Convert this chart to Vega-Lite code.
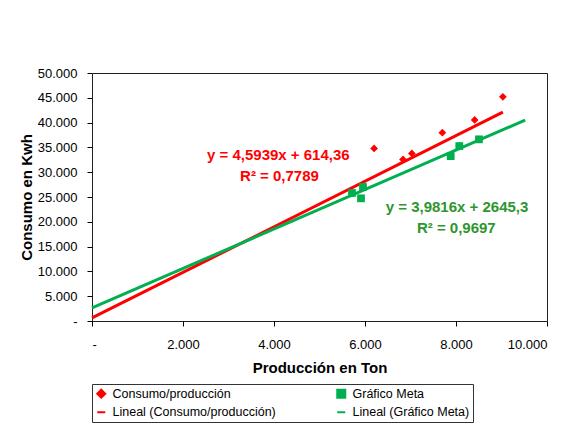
{
  "$schema": "https://vega.github.io/schema/vega-lite/v6.json",
  "width": 455,
  "height": 248,
  "autosize": "none",
  "padding": {"left": 92, "top": 73, "right": 28, "bottom": 109},
  "background": "white",
  "datasets": {
    "pts": [
      {"series": "Consumo/producción", "x": 5714, "y": 25811},
      {"series": "Consumo/producción", "x": 5912, "y": 24730},
      {"series": "Consumo/producción", "x": 5956, "y": 27027},
      {"series": "Consumo/producción", "x": 7883, "y": 33243},
      {"series": "Consumo/producción", "x": 8073, "y": 35270},
      {"series": "Consumo/producción", "x": 8505, "y": 36622},
      {"series": "Consumo/producción", "x": 6200, "y": 34800},
      {"series": "Consumo/producción", "x": 6835, "y": 32570},
      {"series": "Consumo/producción", "x": 7030, "y": 33780},
      {"series": "Consumo/producción", "x": 7700, "y": 37970},
      {"series": "Consumo/producción", "x": 8410, "y": 40540},
      {"series": "Consumo/producción", "x": 9030, "y": 45200},
      {"series": "Gráfico Meta", "x": 5714, "y": 25811},
      {"series": "Gráfico Meta", "x": 5912, "y": 24730},
      {"series": "Gráfico Meta", "x": 5956, "y": 27027},
      {"series": "Gráfico Meta", "x": 7883, "y": 33243},
      {"series": "Gráfico Meta", "x": 8073, "y": 35270},
      {"series": "Gráfico Meta", "x": 8505, "y": 36622}
    ],
    "trend": [
      {"series": "Lineal (Consumo/producción)", "x": 0, "y": 614},
      {"series": "Lineal (Consumo/producción)", "x": 9030, "y": 42100},
      {"series": "Lineal (Gráfico Meta)", "x": 0, "y": 2645},
      {"series": "Lineal (Gráfico Meta)", "x": 9520, "y": 40500}
    ],
    "labels": [
      {"series": "red", "x": 4095, "y": 33440, "text": "y = 4,5939x + 614,36"},
      {"series": "red", "x": 4120, "y": 29185, "text": "R² = 0,7789"},
      {"series": "green", "x": 8022, "y": 22963, "text": "y = 3,9816x + 2645,3"},
      {"series": "green", "x": 8007, "y": 18790, "text": "R² = 0,9697"}
    ]
  },
  "config": {
    "view": {"stroke": "#222", "strokeWidth": 1},
    "font": "Liberation Sans",
    "axis": {
      "grid": false,
      "domain": false,
      "tickColor": "#000",
      "tickSize": 5,
      "labelColor": "#000",
      "labelFont": "Liberation Sans",
      "labelFontSize": 13,
      "labelOverlap": false,
      "titleFont": "Liberation Sans",
      "titleFontSize": 15,
      "titleFontWeight": "bold",
      "titleColor": "#000"
    }
  },
  "encoding": {
    "x": {
      "field": "x",
      "type": "quantitative",
      "scale": {"domain": [0, 10000], "nice": false, "zero": false},
      "axis": {
        "title": "Producción en Ton",
        "values": [0, 2000, 4000, 6000, 8000, 10000],
        "labelExpr": "datum.value === 0 ? '-' : replace(format(datum.value, ','), ',', '.')",
        "labelPadding": 12,
        "titlePadding": 9
      }
    },
    "y": {
      "field": "y",
      "type": "quantitative",
      "scale": {"domain": [0, 50000], "nice": false, "zero": false},
      "axis": {
        "title": "Consumo en Kwh",
        "values": [0, 5000, 10000, 15000, 20000, 25000, 30000, 35000, 40000, 45000, 50000],
        "labelExpr": "datum.value === 0 ? '-' : replace(format(datum.value, ','), ',', '.')",
        "labelPadding": 10,
        "titlePadding": 3
      }
    }
  },
  "layer": [
    {
      "data": {"name": "trend"},
      "mark": {"type": "line", "strokeWidth": 3},
      "encoding": {
        "color": {
          "field": "series",
          "type": "nominal",
          "scale": {
            "domain": ["Consumo/producción", "Gráfico Meta", "Lineal (Consumo/producción)", "Lineal (Gráfico Meta)"],
            "range": ["#FF0000", "#00B050", "#FF0000", "#00B050"]
          },
          "legend": {
            "title": null,
            "orient": "bottom",
            "offset": 9,
            "columns": 2,
            "columnPadding": 57,
            "rowPadding": 4,
            "padding": 3,
            "strokeColor": "#333",
            "fillColor": "white",
            "symbolSize": 64,
            "symbolStrokeWidth": 2,
            "labelOffset": 5,
            "labelFont": "Liberation Sans",
            "labelFontSize": 12.5,
            "labelColor": "#000",
            "labelLimit": 300
          }
        }
      }
    },
    {
      "data": {"name": "pts"},
      "mark": {"type": "point", "filled": true, "opacity": 1},
      "encoding": {
        "color": {"field": "series", "type": "nominal"},
        "shape": {
          "field": "series",
          "type": "nominal",
          "scale": {
            "domain": ["Consumo/producción", "Gráfico Meta", "Lineal (Consumo/producción)", "Lineal (Gráfico Meta)"],
            "range": ["diamond", "square", "stroke", "stroke"]
          }
        },
        "size": {"value": 60}
      }
    },
    {
      "data": {"name": "labels"},
      "transform": [{"filter": "datum.series === 'red'"}],
      "mark": {"type": "text", "font": "Liberation Sans", "fontSize": 15, "fontWeight": "bold", "align": "center", "baseline": "middle", "color": "#FF0000"},
      "encoding": {"text": {"field": "text"}}
    },
    {
      "data": {"name": "labels"},
      "transform": [{"filter": "datum.series === 'green'"}],
      "mark": {"type": "text", "font": "Liberation Sans", "fontSize": 15, "fontWeight": "bold", "align": "center", "baseline": "middle", "color": "#2E962E"},
      "encoding": {"text": {"field": "text"}}
    }
  ]
}
